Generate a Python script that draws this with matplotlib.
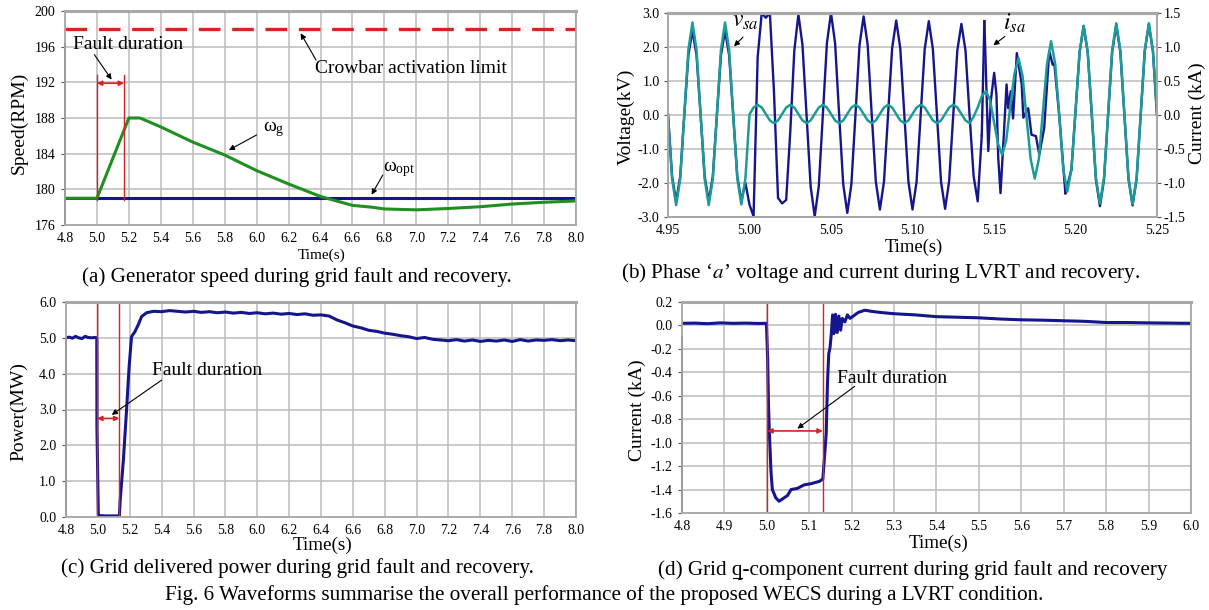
import numpy as np
import matplotlib
matplotlib.use('Agg')
import matplotlib.pyplot as plt

plt.rcParams['font.family'] = ['Liberation Serif', 'DejaVu Serif']
plt.rcParams['mathtext.fontset'] = 'stix'
plt.rcParams['axes.unicode_minus'] = False

# ---------------- data ----------------
# (a) generator speed
t_speed = [4.8, 5.0, 5.2, 5.27, 5.4, 5.6, 5.8, 6.0, 6.2, 6.4, 6.5, 6.6, 6.72,
           6.8, 7.0, 7.2, 7.4, 7.6, 7.8, 8.0]
w_gen = [179.0, 179.0, 188.0, 188.0, 187.0, 185.3, 183.85, 182.1, 180.6, 179.2,
         178.7, 178.2, 178.0, 177.8, 177.7, 177.85, 178.05, 178.35, 178.55, 178.7]
t_opt = [4.8, 8.0]
w_opt = [179.05, 179.05]
crowbar_limit = 198.0
fault_a = (5.0, 5.17)

# (b) phase a voltage (kV) on a 2.5 ms grid, 4.95 .. 5.25 s
t_volt = np.linspace(4.95, 5.25, 121)
v_sa = [0.00, -1.88, -2.65, -1.88, 0.02, 1.92, 2.72, 1.92,
        0.02, -1.88, -2.65, -1.88, 0.02, 1.92, 2.72, 1.92,
        0.02, -1.86, -2.63, -1.86,
        0.02, 0.22, 0.30, 0.22, 0.03, -0.16, -0.24, -0.16,
        0.03, 0.22, 0.30, 0.22, 0.03, -0.16, -0.24, -0.16,
        0.03, 0.22, 0.30, 0.22, 0.03, -0.16, -0.24, -0.16,
        0.03, 0.22, 0.30, 0.22, 0.03, -0.16, -0.24, -0.16,
        0.03, 0.22, 0.30, 0.22, 0.03, -0.16, -0.24, -0.16,
        0.03, 0.22, 0.30, 0.22, 0.03, -0.16, -0.24, -0.16,
        0.03, 0.22, 0.30, 0.22, 0.03, -0.16, -0.24, -0.05,
        0.22, 0.55, 0.70, 0.45, -0.20, -0.85, -1.17, -0.75,
        0.25, 1.20, 1.68, 1.15, -0.10, -1.30, -1.87, -1.30,
        0.10, 1.50, 2.17, 1.52, 0.00, -1.60, -2.25, -1.60,
        0.10, 1.85, 2.62, 1.85, 0.02, -1.84, -2.60, -1.84,
        0.03, 1.90, 2.70, 1.90, 0.02, -1.85, -2.62, -1.85,
        0.02, 1.90, 2.70, 1.90, 0.02]

# (b) phase a current (kA)
t_cur_1 = np.linspace(4.95, 5.1425, 78)
i_sa_1 = [0.00, -0.90, -1.27, -0.90, 0.00, 0.88, 1.24, 0.88,
          0.00, -0.90, -1.27, -0.90, 0.00, 0.88, 1.24, 0.88,
          0.00, -0.90, -1.26, -1.00,
          -1.32, -1.49, 0.85, 1.50, 1.43, 1.50, 0.35, -1.22,
          -1.30, -1.25, -0.25, 0.95, 1.48, 1.03, 0.00, -1.05,
          -1.49, -1.05, 0.00, 1.06, 1.50, 1.06, 0.00, -1.02,
          -1.44, -1.02, 0.00, 1.03, 1.45, 1.03, 0.00, -0.98,
          -1.39, -0.98, 0.00, 0.98, 1.39, 0.98, 0.00, -0.98,
          -1.39, -0.98, 0.00, 0.97, 1.38, 0.97, 0.00, -0.98,
          -1.38, -0.97, 0.00, 0.95, 1.34, 0.95, 0.00, -0.90,
          -1.27, -0.30]
t_cur_2 = [5.1441, 5.1465, 5.1480, 5.1501, 5.1515, 5.1526, 5.1540, 5.1560,
           5.1577, 5.1587, 5.1603, 5.1617, 5.1640, 5.1670, 5.1680, 5.1710,
           5.1730, 5.1757, 5.1778, 5.1808, 5.1839, 5.1860, 5.1870, 5.1900,
           5.1938]
i_sa_2 = [1.38, -0.53, 0.20, 0.62, 0.30, -0.63, -1.15, -0.30,
          0.45, 0.10, 0.35, -0.05, 0.91, 0.45, -0.04, 0.10,
          -0.29, -0.31, -0.58, -0.19, 0.94, 0.74, 0.76, 0.00,
          -1.15]
t_cur_3 = np.linspace(5.1975, 5.25, 22)
i_sa_3 = [-0.80, 0.05, 0.92, 1.31, 0.92, 0.00, -0.95, -1.34, -0.95,
          0.00, 0.93, 1.32, 0.93, 0.00, -0.94, -1.33, -0.94,
          0.00, 0.94, 1.33, 0.94, 0.00]

# (c) grid delivered power (MW)
t_pow = [4.80, 4.82, 4.84, 4.86, 4.88, 4.90, 4.92, 4.94, 4.96, 4.98, 4.993,
         4.994, 5.003, 5.01, 5.05, 5.10, 5.135, 5.14, 5.16, 5.18, 5.196, 5.211,
         5.232, 5.253, 5.274, 5.305,
         5.35, 5.40, 5.45, 5.50, 5.55, 5.60, 5.65, 5.70, 5.75, 5.80, 5.85,
         5.90, 5.95, 6.00, 6.05, 6.10, 6.15, 6.20, 6.25, 6.30, 6.35, 6.40,
         6.45, 6.50, 6.55, 6.60, 6.65, 6.70, 6.75, 6.80, 6.85, 6.90, 6.95,
         7.00, 7.05, 7.10, 7.15, 7.20, 7.25, 7.30, 7.35, 7.40, 7.45, 7.50,
         7.55, 7.60, 7.65, 7.70, 7.75, 7.80, 7.85, 7.90, 7.95, 8.00]
p_grid = [5.00, 5.02, 4.99, 5.04, 5.00, 4.98, 5.04, 5.01, 5.00, 5.01, 5.00,
          2.50, 0.05, 0.04, 0.03, 0.03, 0.03, 0.47, 1.59, 2.99, 4.19, 5.03,
          5.17, 5.36, 5.59, 5.70,
          5.74, 5.73, 5.76, 5.74, 5.72, 5.74, 5.71, 5.73, 5.70, 5.72, 5.69,
          5.71, 5.68, 5.70, 5.67, 5.69, 5.66, 5.68, 5.65, 5.67, 5.63, 5.64,
          5.61, 5.50, 5.42, 5.33, 5.28, 5.21, 5.18, 5.13, 5.10, 5.06, 5.03,
          4.98, 5.01, 4.96, 4.94, 4.92, 4.95, 4.91, 4.94, 4.90, 4.93, 4.91,
          4.94, 4.90, 4.95, 4.91, 4.94, 4.93, 4.95, 4.92, 4.94, 4.92]
fault_c = (4.995, 5.135)

# (d) grid q-component current (kA)
t_iq = [4.80, 4.83, 4.86, 4.89, 4.92, 4.95, 4.98, 4.999, 5.002, 5.004, 5.006,
        5.010, 5.013, 5.021, 5.029, 5.041, 5.049, 5.057, 5.072, 5.088, 5.104,
        5.124, 5.132, 5.136, 5.140, 5.143, 5.146, 5.149, 5.152, 5.155, 5.158,
        5.162, 5.166, 5.170, 5.174, 5.178, 5.184, 5.190, 5.196, 5.204, 5.215,
        5.231, 5.247, 5.27, 5.30, 5.35, 5.40, 5.45, 5.50, 5.55, 5.60, 5.65,
        5.70, 5.75, 5.80, 5.85, 5.90, 5.95, 6.00]
i_q = [0.018, 0.020, 0.015, 0.022, 0.018, 0.020, 0.017, 0.018, -0.29, -0.69,
       -0.92, -1.26, -1.40, -1.47, -1.50, -1.47, -1.45, -1.40, -1.39, -1.36,
       -1.35, -1.33, -1.31, -1.12, -0.92, -0.49, -0.24, -0.19, -0.07, 0.09,
       -0.07, 0.095, -0.06, 0.08, -0.04, 0.06, 0.03, 0.09, 0.06, 0.08, 0.11,
       0.13, 0.12, 0.11, 0.10, 0.09, 0.075, 0.07, 0.065, 0.055, 0.048, 0.045,
       0.04, 0.035, 0.025, 0.025, 0.022, 0.02, 0.018]
fault_d = (5.001, 5.132)

# ---------------- style ----------------
W, H = 1209, 610
GRIDC = '#bcbcbc'
BLUE = '#16168c'
GREEN = '#1f8f1f'
TEAL = '#1c9c96'
RED = '#d42424'
TICK_FS = 10
LAB_FS = 14
CAP_FS = 15.2

fig = plt.figure(figsize=(W / 100, H / 100), dpi=100)


def px_axes(l, t, r, b):
    return fig.add_axes([l / W, 1 - b / H, (r - l) / W, (b - t) / H])


def ftext(x, y, s, **kw):
    kw.setdefault('ha', 'center')
    kw.setdefault('va', 'center')
    return fig.text(x / W, 1 - y / H, s, **kw)


def style(ax):
    for s in ax.spines.values():
        s.set_color('#a8a8a8')
        s.set_linewidth(1.3)
    ax.spines['top'].set_linewidth(2.2)
    ax.grid(True, color=GRIDC, lw=1.1)
    ax.set_axisbelow(True)
    ax.tick_params(axis='x', length=0, pad=5, labelsize=TICK_FS)
    ax.tick_params(axis='y', length=3, pad=4, color='#555555', labelsize=TICK_FS)


fault_arrow = dict(arrowstyle='<|-|>', color=RED, lw=1.2, mutation_scale=7,
                   shrinkA=0, shrinkB=0)
note_arrow = dict(arrowstyle='-|>', color='k', lw=0.8, mutation_scale=8,
                  shrinkA=0, shrinkB=0)

# ---------------- (a) ----------------
ax1 = px_axes(65, 11, 576, 225)
style(ax1)
ax1.set_xlim(4.8, 8.0)
ax1.set_ylim(176, 200)
ax1.set_xticks(np.arange(4.8, 8.01, 0.2))
ax1.set_xticklabels(['%.1f' % v for v in np.arange(4.8, 8.01, 0.2)])
ax1.set_yticks(np.arange(176, 201, 4))
ax1.axhline(crowbar_limit, color=RED, lw=2.4, dashes=(6.5, 3.5))
ax1.plot(t_opt, w_opt, color=BLUE, lw=2.2)
ax1.plot(t_speed, w_gen, color=GREEN, lw=2.2)
for x in fault_a:
    ax1.plot([x, x], [178.8, 192.8], color=RED, lw=1.0)
ax1.annotate('', xy=(fault_a[0], 191.9), xytext=(fault_a[1], 191.9),
             arrowprops=fault_arrow)
ax1.plot([4.8, 4.8], [176, 196.3], color='#222222', lw=1.3, clip_on=False)
ax1.text(4.853, 196.2, 'Fault duration', fontsize=LAB_FS, va='center')
ax1.annotate('', xy=(5.092, 192.3), xytext=(4.984, 195.1), arrowprops=note_arrow)
ax1.text(6.365, 193.6, 'Crowbar activation limit', fontsize=LAB_FS, va='center')
ax1.annotate('', xy=(6.276, 197.5), xytext=(6.372, 194.5), arrowprops=note_arrow)
ax1.text(6.037, 186.8, r'$\mathregular{\omega_g}$', fontsize=LAB_FS, va='center')
ax1.annotate('', xy=(5.826, 184.4), xytext=(6.0, 186.1), arrowprops=note_arrow)
ax1.text(6.79, 182.3, r'$\mathregular{\omega_{opt}}$', fontsize=LAB_FS, va='center')
ax1.annotate('', xy=(6.72, 179.4), xytext=(6.79, 181.6), arrowprops=note_arrow)

ftext(19, 123, 'Speed(RPM)', fontsize=LAB_FS, rotation=90)
ftext(322, 255, 'Time(s)', fontsize=11)
ftext(297, 277, '(a) Generator speed during grid fault and recovery.', fontsize=CAP_FS)

# ---------------- (b) ----------------
ax2 = px_axes(668, 13, 1157, 217)
ax2r = ax2.twinx()
style(ax2r)
style(ax2)
ax2.grid(False)
ax2.set_zorder(ax2r.get_zorder() + 1)
ax2.patch.set_visible(False)
ax2.set_xlim(4.95, 5.25)
ax2.set_ylim(-3, 3)
ax2r.set_ylim(-1.5, 1.5)
ax2.set_xticks(np.arange(4.95, 5.2501, 0.05))
ax2.set_xticklabels(['%.2f' % v for v in np.arange(4.95, 5.2501, 0.05)])
ax2.set_yticks(np.arange(-3, 3.01, 1.0))
ax2.set_yticklabels(['%.1f' % v for v in np.arange(-3, 3.01, 1.0)])
ax2.tick_params(axis='y', pad=3)
ax2r.set_yticks(np.arange(-1.5, 1.51, 0.5))
ax2r.set_yticklabels(['%.1f' % v for v in np.arange(-1.5, 1.51, 0.5)])
ax2r.tick_params(axis='y', length=3, pad=2)
ax2r.plot(t_cur_1, i_sa_1, color=BLUE, lw=1.7)
ax2r.plot(t_cur_2, i_sa_2, color=BLUE, lw=1.7)
ax2r.plot(t_cur_3, i_sa_3, color=BLUE, lw=1.7)
ax2r.plot([t_cur_1[-1], t_cur_2[0]], [i_sa_1[-1], i_sa_2[0]], color=BLUE, lw=1.7)
ax2r.plot([t_cur_2[-1], t_cur_3[0]], [i_sa_2[-1], i_sa_3[0]], color=BLUE, lw=1.7)
ax2.plot(t_volt, v_sa, color=TEAL, lw=1.8)
ax2.text(4.989, 2.76, r'$v_{sa}$', fontsize=17, va='center')
ax2.annotate('', xy=(4.9905, 2.02), xytext=(4.996, 2.29), arrowprops=note_arrow)
ax2.text(5.1557, 2.70, r'$i_{sa}$', fontsize=17, va='center')
ax2.annotate('', xy=(5.1496, 2.05), xytext=(5.1567, 2.31), arrowprops=note_arrow)

ftext(626, 117, 'Voltage(kV)', fontsize=LAB_FS, rotation=90)
ftext(1197, 113, 'Current (kA)', fontsize=LAB_FS, rotation=90)
ftext(914, 247, 'Time(s)', fontsize=13.4)
ftext(881, 273, r'(b) Phase ‘$\mathit{a}$’ voltage and current during LVRT and recovery.',
      fontsize=CAP_FS)

# ---------------- (c) ----------------
ax3 = px_axes(66, 302, 576, 517)
style(ax3)
ax3.set_xlim(4.8, 8.0)
ax3.set_ylim(0, 6)
ax3.set_xticks(np.arange(4.8, 8.01, 0.2))
ax3.set_xticklabels(['%.1f' % v for v in np.arange(4.8, 8.01, 0.2)])
ax3.set_yticks(np.arange(0, 6.01, 1.0))
ax3.set_yticklabels(['%.1f' % v for v in np.arange(0, 6.01, 1.0)])
ax3.plot(t_pow, p_grid, color=BLUE, lw=2.2)
for x in fault_c:
    ax3.plot([x, x], [0, 6], color=RED, lw=1.0)
ax3.annotate('', xy=(fault_c[0], 2.75), xytext=(fault_c[1], 2.75),
             arrowprops=fault_arrow)
ax3.plot([4.8, 4.8], [0, 5.0], color='#222222', lw=1.3, clip_on=False)
ax3.text(5.337, 4.1, 'Fault duration', fontsize=LAB_FS, va='center')
ax3.annotate('', xy=(5.087, 2.85), xytext=(5.40, 3.82), arrowprops=note_arrow)

ftext(19, 412, 'Power(MW)', fontsize=LAB_FS, rotation=90)
ftext(323, 545, 'Time(s)', fontsize=13.8)
ftext(297, 568, '(c) Grid delivered power during grid fault and recovery.', fontsize=CAP_FS)

# ---------------- (d) ----------------
ax4 = px_axes(682, 302, 1191, 513)
style(ax4)
ax4.set_xlim(4.8, 6.0)
ax4.set_ylim(-1.6, 0.2)
ax4.set_xticks(np.arange(4.8, 6.001, 0.1))
ax4.set_xticklabels(['%.1f' % v for v in np.arange(4.8, 6.001, 0.1)])
ax4.set_yticks(np.arange(-1.6, 0.201, 0.2))
ax4.set_yticklabels(['%.1f' % (v + 0.0) for v in np.round(np.arange(-1.6, 0.201, 0.2), 1)])
ax4.plot(t_iq, i_q, color=BLUE, lw=2.2)
for x in fault_d:
    ax4.plot([x, x], [-1.6, 0.2], color=RED, lw=1.0)
ax4.annotate('', xy=(fault_d[0], -0.9), xytext=(fault_d[1], -0.9),
             arrowprops=fault_arrow)
ax4.plot([4.8, 4.8], [-1.6, -0.1], color='#222222', lw=1.3, clip_on=False)
ax4.text(5.165, -0.45, 'Fault duration', fontsize=LAB_FS, va='center')
ax4.annotate('', xy=(5.072, -0.88), xytext=(5.207, -0.52), arrowprops=note_arrow)

ftext(637, 410, 'Current (kA)', fontsize=LAB_FS, rotation=90)
ftext(939, 543, 'Time(s)', fontsize=13.8)
cap_d = ftext(913, 570, '(d) Grid q-component current during grid fault and recovery',
              fontsize=CAP_FS)

ftext(604, 595, 'Fig. 6 Waveforms summarise the overall performance of the proposed '
      'WECS during a LVRT condition.', fontsize=CAP_FS)

# underline the "q" in caption (d)
rend = fig.canvas.get_renderer()
bb = cap_d.get_window_extent(rend)
tmp = fig.text(0, 0, '(d) Grid q', fontsize=CAP_FS)
w_pre = tmp.get_window_extent(rend).width
tmp.set_text('q')
w_q = tmp.get_window_extent(rend).width
tmp.remove()
x_end = bb.x0 + w_pre
y_ul = bb.y0 + 2
fig.add_artist(plt.Line2D([(x_end - w_q + 1) / W, (x_end - 1) / W], [y_ul / H, y_ul / H],
                          color='k', lw=0.8))

fig.savefig('out.png', dpi=100)
